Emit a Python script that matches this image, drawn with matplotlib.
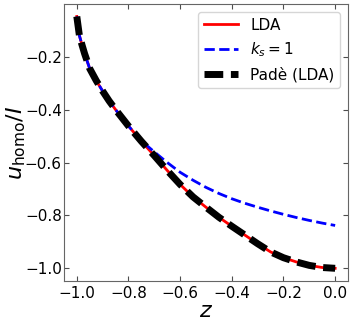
import numpy as np
import matplotlib.pyplot as plt

# values
z = [-1.0, -0.99, -0.98, -0.97, -0.95, -0.925, -0.9, -0.875, -0.85, -0.8, -0.75,
     -0.7, -0.65, -0.6, -0.55, -0.5, -0.45, -0.4, -0.35, -0.3, -0.25,
     -0.2, -0.15, -0.1, -0.05, 0.0]
u_lda = [-0.048, -0.12, -0.155, -0.188, -0.245, -0.29, -0.33, -0.367, -0.40, -0.462, -0.52,
         -0.574, -0.63, -0.683, -0.73, -0.769, -0.807, -0.841, -0.874, -0.907, -0.938,
         -0.96, -0.976, -0.989, -0.997, -1.0]
u_ks1 = [-0.048, -0.12, -0.155, -0.188, -0.245, -0.29, -0.33, -0.367, -0.40, -0.462, -0.518,
         -0.56, -0.6, -0.637, -0.667, -0.694, -0.717, -0.737, -0.754, -0.769, -0.783,
         -0.796, -0.808, -0.819, -0.829, -0.838]
u_pade = u_lda

fig = plt.figure(figsize=(3.53, 3.27), dpi=100)
ax = fig.add_axes([0.181, 0.141, 0.805, 0.847])

ax.plot(z, u_lda, color='red', lw=2, label='LDA')
ax.plot(z, u_ks1, color='blue', lw=2, ls='--', label='$k_s=1$')
ax.plot(z, u_pade, color='black', lw=5, ls=(0, (2.7, 1.1)), label='Padè (LDA)')

ax.set_xticks([-1.0, -0.8, -0.6, -0.4, -0.2, 0.0])
ax.set_yticks([-1.0, -0.8, -0.6, -0.4, -0.2])
ax.tick_params(direction='in', top=True, right=True, labelsize=11, color='0.3')
ax.tick_params(axis='y', pad=1.5)
for s in ax.spines.values():
    s.set_color('0.4')
ax.set_xlabel('$z$', fontsize=16, labelpad=0)
ax.set_ylabel(r'$u_{\rm homo}/I$', fontsize=16, labelpad=-2)
ax.legend(loc='upper right', fontsize=11, handlelength=2.2)

fig.savefig('out.png', dpi=100)
